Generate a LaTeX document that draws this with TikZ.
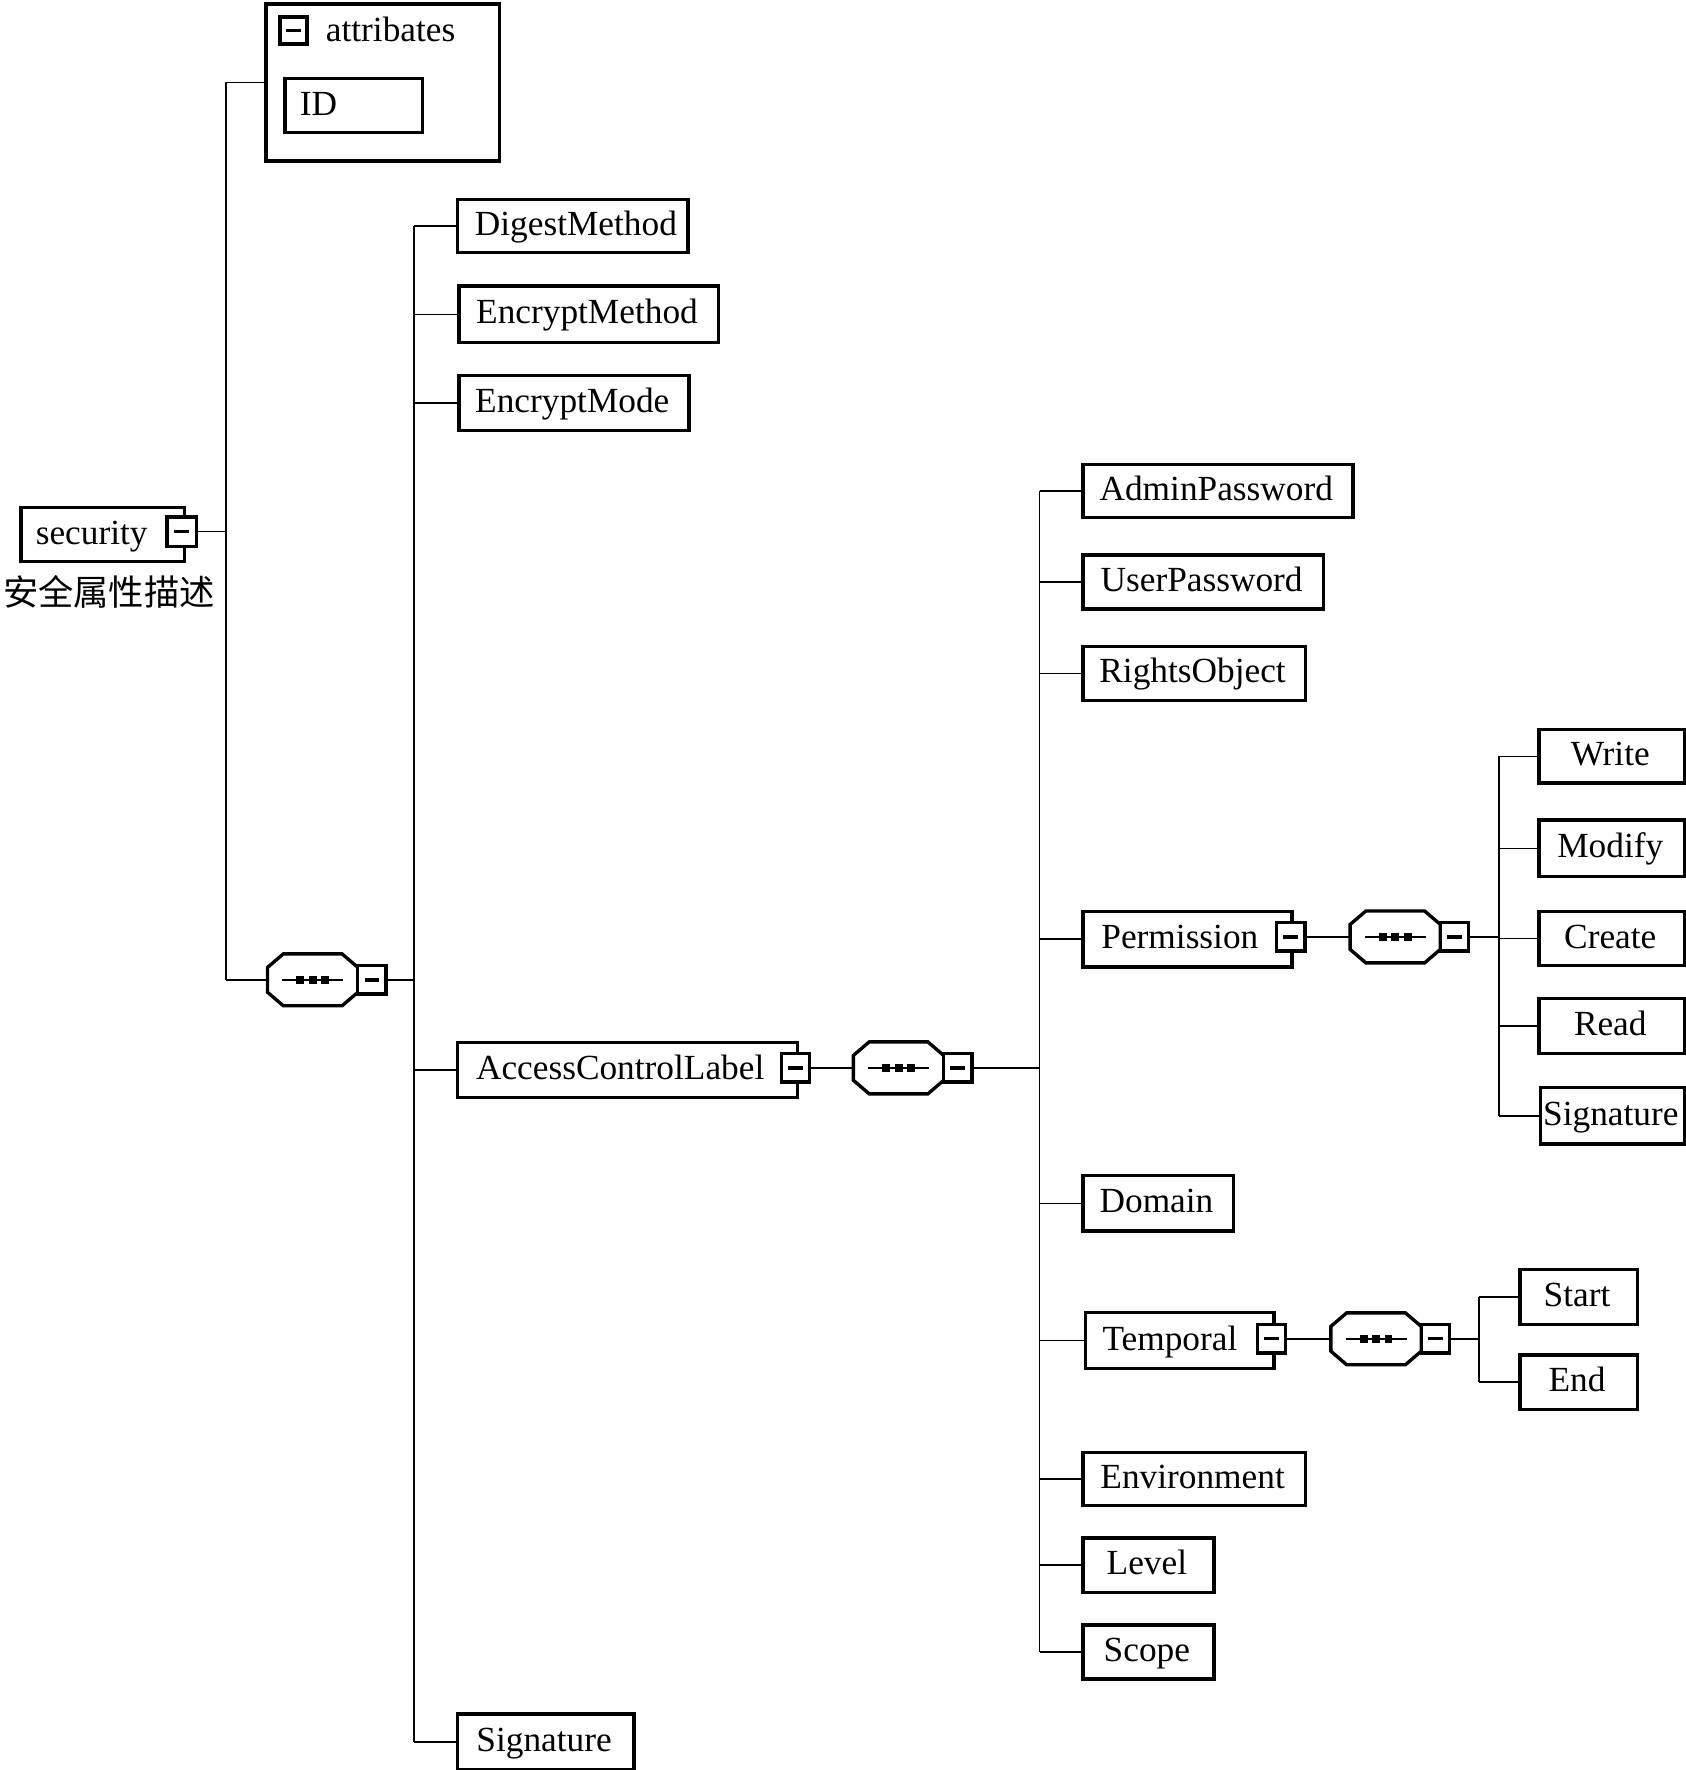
\documentclass[tikz,border=0pt]{standalone}
\usepackage{fontspec}
\setmainfont{Liberation Serif}
\newfontfamily\cjk{Noto Sans CJK SC}
\usetikzlibrary{calc}
\tikzset{
  elbox/.style={draw, line width=0.85pt, fill=white, inner sep=0pt, rectangle},
  conn/.style={line width=0.4pt},
  lbl/.style={inner sep=0pt, font=\fontsize{8.9}{10}\selectfont},
  mbox/.style={draw, line width=0.8pt, fill=white, inner sep=0pt, rectangle},
  seqshape/.style={line width=0.85pt, fill=white},
}
% left-aligned box: name, left, top, right, bottom, pad, text
\newcommand\bxl[7]{%
  \node[elbox, anchor=north west, minimum width={(#4-#2)*0.28453pt}, minimum height={(#5-#3)*0.28453pt}] (#1) at (#2,#3) {};
  \node[lbl, anchor=base west] (#1-t) at ({#2+#6},{(#3+#5)/2+10}) {#7};}
% centred box: name, left, top, right, bottom, text
\newcommand\bxc[6]{%
  \node[elbox, anchor=north west, minimum width={(#4-#2)*0.28453pt}, minimum height={(#5-#3)*0.28453pt}] (#1) at (#2,#3) {};
  \node[lbl, anchor=base] (#1-t) at ({(#2+#4)/2},{(#3+#5)/2+10}) {#6};}
% minus box: name, cx, cy, size
\newcommand\mb[4]{%
  \node[mbox, minimum width={#4*0.28453pt}, minimum height={#4*0.28453pt}] (#1) at ({#2},{#3}) {};
  \draw[line width=0.85pt] ({#2-6.5},{#3}) -- ({#2+6.5},{#3});}
% sequence compositor: name, left, cy
\newcommand\sq[3]{%
  \node[inner sep=0pt, minimum width={80*0.28453pt}, minimum height={46*0.28453pt}] (#1) at ({#2+40},{#3}) {};
  \draw[seqshape] ({#2+14},{#3-23}) -- ({#2+66},{#3-23}) -- ({#2+80},{#3-11}) -- ({#2+80},{#3+11}) -- ({#2+66},{#3+23}) -- ({#2+14},{#3+23}) -- ({#2},{#3+11}) -- ({#2},{#3-11}) -- cycle;
  \draw[conn] ({#2+13},{#3}) -- ({#2+67},{#3});
  \foreach \d in {-11,0,11} \fill ({#2+40+\d-3.5},{#3-3.5}) rectangle ++(7,7);
  \mb{#1-m}{#2+92.5}{#3}{25}}
\begin{document}
\begin{tikzpicture}[x=0.1mm, y=-0.1mm]
\useasboundingbox (0,0) rectangle (1493,1568);
\fill[white] (0,0) rectangle (1493,1568);

% root
\bxl{sec}{17}{448}{162}{496}{14}{security}
\mb{sec-m}{161}{471}{26}
\node[lbl, anchor=base west, font=\cjk\fontsize{8.9}{10}\selectfont] (secdesc) at (2,536) {安全属性描述};

% attributes
\node[elbox, anchor=north west, minimum width={207*0.28453pt}, minimum height={139*0.28453pt}] (attr) at (234,2) {};
\mb{attr-m}{260}{27}{24}
\node[lbl, anchor=base west] (attr-t) at (288,37) {attribates};
\bxl{id}{251}{68}{373}{116}{14}{ID}

% level 1 sequence
\sq{s1}{237}{868}

% level 2
\bxl{dm}{404}{175}{608}{222}{16}{DigestMethod}
\bxc{em}{405}{252}{635}{302}{EncryptMethod}
\bxc{emo}{405}{331}{609}{380}{EncryptMode}
\bxl{acl}{404}{922}{705}{971}{17}{AccessControlLabel}
\mb{acl-m}{704.5}{946}{25}
\bxc{sig}{404}{1517}{560}{1566}{Signature}

% level 2 sequence
\sq{s2}{756}{946}

% level 3
\bxc{ap}{958}{410}{1197}{457}{AdminPassword}
\bxc{up}{958}{490}{1171}{538}{UserPassword}
\bxc{ro}{958}{571}{1155}{619}{RightsObject}
\bxl{perm}{958}{806}{1143}{855}{17}{Permission}
\mb{perm-m}{1143.5}{830}{25}
\bxc{dom}{958}{1040}{1091}{1089}{Domain}
\bxl{temp}{960}{1161}{1127}{1211}{16}{Temporal}
\mb{temp-m}{1126.5}{1186}{25}
\bxc{env}{958}{1285}{1155}{1332}{Environment}
\bxc{lev}{958}{1361}{1074}{1409}{Level}
\bxc{scope}{958}{1438}{1074}{1486}{Scope}

% permission sequence
\sq{s3}{1196}{830}
\bxc{wr}{1362}{645}{1491}{692}{Write}
\bxc{mod}{1362}{725}{1491}{775}{Modify}
\bxc{cre}{1362}{806}{1491}{854}{Create}
\bxc{rd}{1362}{883}{1491}{932}{Read}
\bxc{psig}{1363}{962}{1491}{1012}{Signature}

% temporal sequence
\sq{s4}{1179}{1186}
\bxc{st}{1345}{1123}{1449}{1172}{Start}
\bxc{en}{1345}{1199}{1449}{1247}{End}

% connectors
\coordinate (t1) at (200,0);
\coordinate (t2) at (367,0);
\coordinate (t3) at (921,0);
\coordinate (t4) at (1328,0);
\coordinate (t5) at (1310,0);

\draw[conn] (sec-m.east) -- (t1 |- sec-m.east);
\draw[conn] (t1 |- attr.west) -- (t1 |- s1.west);
\draw[conn] (t1 |- attr.west) -- (attr.west);
\draw[conn] (t1 |- s1.west) -- (s1.west);

\draw[conn] (s1-m.east) -- (t2 |- s1-m.east);
\draw[conn] (t2 |- dm.west) -- (t2 |- sig.west);
\foreach \c in {dm,em,emo,acl,sig} \draw[conn] (t2 |- \c.west) -- (\c.west);

\draw[conn] (acl-m.east) -- (s2.west);
\draw[conn] (s2-m.east) -- (t3 |- s2-m.east);
\draw[conn] (t3 |- ap.west) -- (t3 |- scope.west);
\foreach \c in {ap,up,ro,perm,dom,temp,env,lev,scope} \draw[conn] (t3 |- \c.west) -- (\c.west);

\draw[conn] (perm-m.east) -- (s3.west);
\draw[conn] (s3-m.east) -- (t4 |- s3-m.east);
\draw[conn] (t4 |- wr.west) -- (t4 |- psig.west);
\foreach \c in {wr,mod,cre,rd,psig} \draw[conn] (t4 |- \c.west) -- (\c.west);

\draw[conn] (temp-m.east) -- (s4.west);
\draw[conn] (s4-m.east) -- (t5 |- s4-m.east);
\draw[conn] (t5 |- st.west) -- (t5 |- en.west);
\foreach \c in {st,en} \draw[conn] (t5 |- \c.west) -- (\c.west);
\end{tikzpicture}
\end{document}
